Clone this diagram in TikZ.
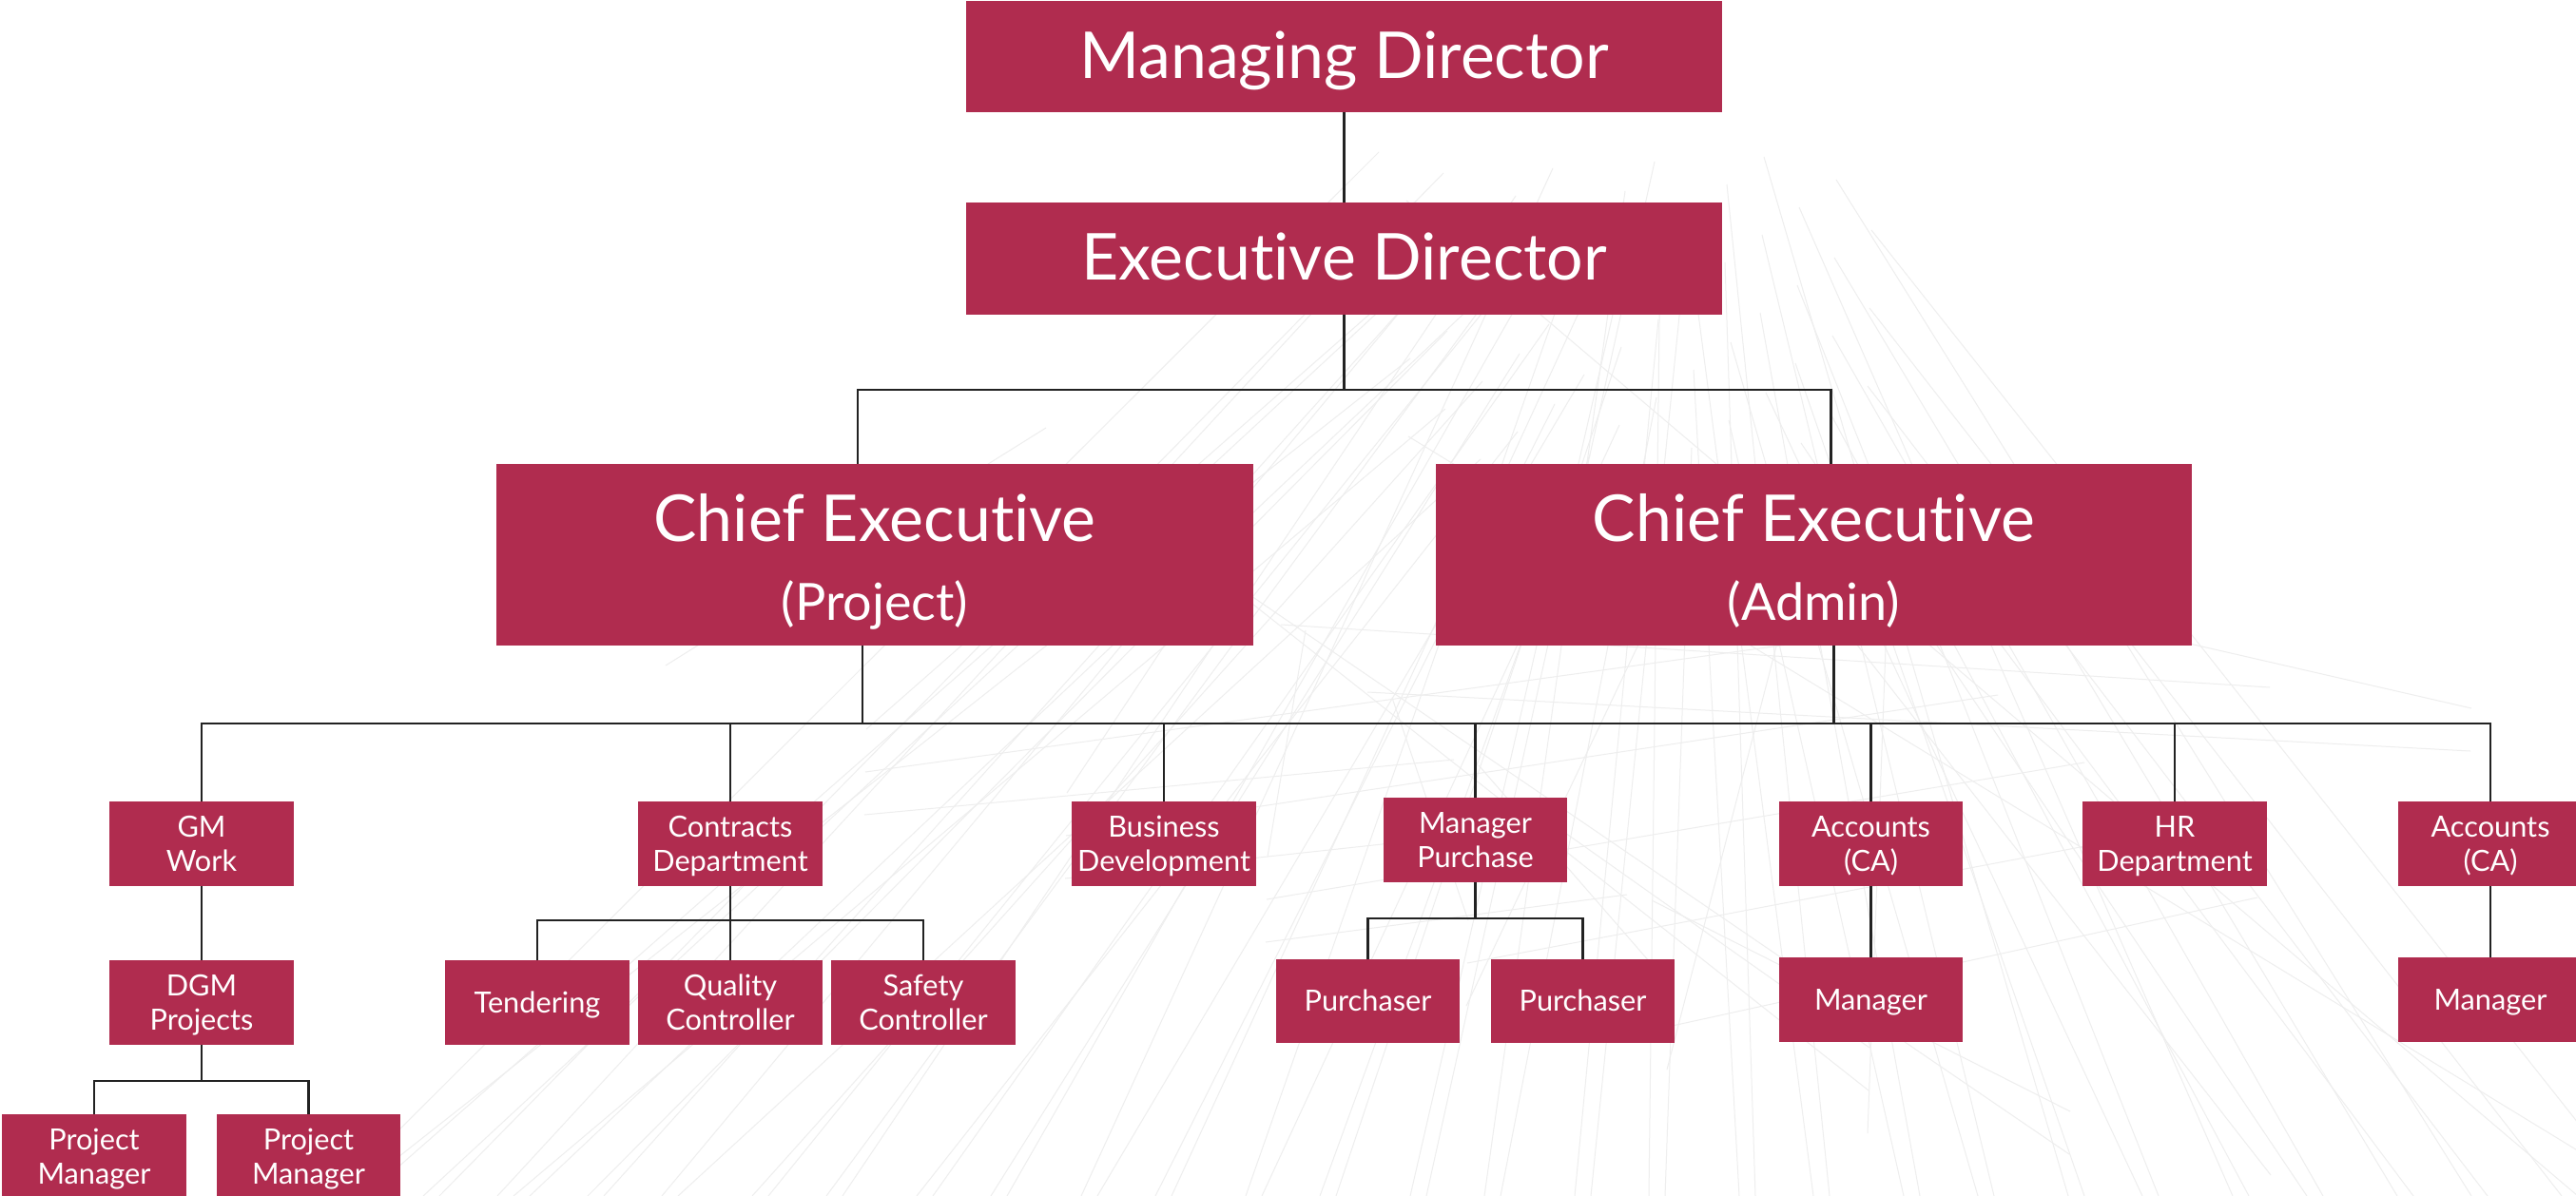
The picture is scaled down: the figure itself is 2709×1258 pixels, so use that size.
\documentclass[tikz,border=0pt]{standalone}
\usepackage{fontspec}
\setmainfont{Lato}[Ligatures=NoCommon]
\definecolor{boxred}{RGB}{176,44,79}
\definecolor{linecol}{RGB}{34,34,34}
\definecolor{sketchcol}{RGB}{238,238,238}
\tikzset{
  obox/.style={fill=boxred, draw=none, inner sep=0pt, outer sep=0pt, rectangle},
  stxt/.style={text=white, anchor=base, inner sep=0pt, font=\fontsize{30.7}{36}\selectfont},
  btxt/.style={text=white, anchor=base, inner sep=0pt, font=\fontsize{68}{80}\selectfont},
  ctxt/.style={text=white, anchor=base, inner sep=0pt, font=\fontsize{54}{64}\selectfont},
  conn/.style={draw=linecol, line width=2.5pt},
  sketch/.style={draw=sketchcol, line width=1pt}
}
\newcommand\boxone[6]{%
  \node[obox, minimum width=#4pt, minimum height=#5pt] (#1) at (#2,#3) {};
  \node[stxt] (#1-a) at (#2,#3+10.5) {#6};}
\newcommand\boxtwo[7]{%
  \node[obox, minimum width=#4pt, minimum height=#5pt] (#1) at (#2,#3) {};
  \node[stxt] (#1-a) at (#2,#3-7.5) {#6};
  \node[stxt] (#1-b) at (#2,#3+29) {#7};}
\begin{document}
\begin{tikzpicture}[x=1pt, y=-1pt]
\useasboundingbox[fill=white] (0,0) rectangle (2709,1258);
% faint background sketch
\foreach \i in {0,...,59} {
  \pgfmathsetmacro\ax{1450+mod(\i*37,520)}
  \pgfmathsetmacro\ay{160+mod(\i*53,330)}
  \pgfmathsetmacro\bx{350+mod(\i*173,2500)}
  \draw[sketch] (\ax,\ay) -- (\bx,1258);
}
\foreach \i in {0,...,24} {
  \pgfmathsetmacro\ax{1100+mod(\i*91,1300)}
  \pgfmathsetmacro\ay{450+mod(\i*71,500)}
  \pgfmathsetmacro\bx{700+mod(\i*211,1900)}
  \pgfmathsetmacro\by{700+mod(\i*67,558)}
  \draw[sketch] (\ax,\ay) -- (\bx,\by);
}
% top levels
\node[obox, minimum width=795pt, minimum height=117pt] (md) at (1413.5,59.5) {};
\node[btxt] (md-a) at (1413.5,82) {Managing Director};
\node[obox, minimum width=795pt, minimum height=118pt] (ed) at (1413.5,272) {};
\node[btxt] (ed-a) at (1413.5,294) {Executive Director};
\node[obox, minimum width=796pt, minimum height=191pt] (cep) at (920,583.5) {};
\node[btxt] (cep-a) at (920,569) {Chief Executive};
\node[ctxt] (cep-b) at (920,652) {(Project)};
\node[obox, minimum width=795pt, minimum height=191pt] (cea) at (1907.5,583.5) {};
\node[btxt] (cea-a) at (1907.5,569) {Chief Executive};
\node[ctxt] (cea-b) at (1907.5,652) {(Admin)};
% level 3
\boxtwo{gm}{212}{887.5}{194}{89}{GM}{Work}
\boxtwo{con}{768}{887.5}{194}{89}{Contracts}{Department}
\boxtwo{bus}{1224}{887.5}{194}{89}{Business}{Development}
\boxtwo{mp}{1551.5}{883.5}{193}{89}{Manager}{Purchase}
\boxtwo{acc}{1967.5}{887.5}{193}{89}{Accounts}{(CA)}
\boxtwo{hr}{2287}{887.5}{194}{89}{HR}{Department}
\boxtwo{acctwo}{2619}{887.5}{194}{89}{Accounts}{(CA)}
% level 4
\boxtwo{dgm}{212}{1054.5}{194}{89}{DGM}{Projects}
\boxone{ten}{565}{1054.5}{194}{89}{Tendering}
\boxtwo{qua}{768}{1054.5}{194}{89}{Quality}{Controller}
\boxtwo{saf}{971}{1054.5}{194}{89}{Safety}{Controller}
\boxone{puone}{1438.5}{1053}{193}{88}{Purchaser}
\boxone{putwo}{1664.5}{1053}{193}{88}{Purchaser}
\boxone{manone}{1967.5}{1051.5}{193}{89}{Manager}
\boxone{mantwo}{2619}{1051.5}{194}{89}{Manager}
% level 5
\boxtwo{pmone}{99}{1216.5}{194}{89}{Project}{Manager}
\boxtwo{pmtwo}{324.5}{1216.5}{193}{89}{Project}{Manager}
% bars
\coordinate (bartop) at (1413.5,410);
\coordinate (barmid) at (1413.5,761);
\coordinate (barcon) at (768,968);
\coordinate (barpur) at (1551.5,966);
\coordinate (bardgm) at (212,1137);
% connectors
\draw[conn] (md.south) -- (ed.north);
\draw[conn] (ed.south) -- (bartop);
\draw[conn] ([xshift=-18pt]cep.north) |- (bartop) -| ([xshift=18pt]cea.north);
\draw[conn] ([xshift=-13pt]cep.south) -- ([xshift=-13pt]cep.south |- barmid);
\draw[conn] ([xshift=21pt]cea.south) -- ([xshift=21pt]cea.south |- barmid);
\draw[conn] (gm.north) |- (barmid) -| (acctwo.north);
\draw[conn] (con.north) -- (con.north |- barmid);
\draw[conn] (bus.north) -- (bus.north |- barmid);
\draw[conn] (mp.north) -- (mp.north |- barmid);
\draw[conn] (acc.north) -- (acc.north |- barmid);
\draw[conn] (hr.north) -- (hr.north |- barmid);
\draw[conn] (gm.south) -- (dgm.north);
\draw[conn] (dgm.south) -- (bardgm);
\draw[conn] (pmone.north) |- (bardgm) -| (pmtwo.north);
\draw[conn] (con.south) -- (barcon);
\draw[conn] (ten.north) |- (barcon) -| (saf.north);
\draw[conn] (qua.north) -- (barcon);
\draw[conn] (mp.south) -- (barpur);
\draw[conn] (puone.north) |- (barpur) -| (putwo.north);
\draw[conn] (acc.south) -- (manone.north);
\draw[conn] (acctwo.south) -- (mantwo.north);
\end{tikzpicture}
\end{document}
